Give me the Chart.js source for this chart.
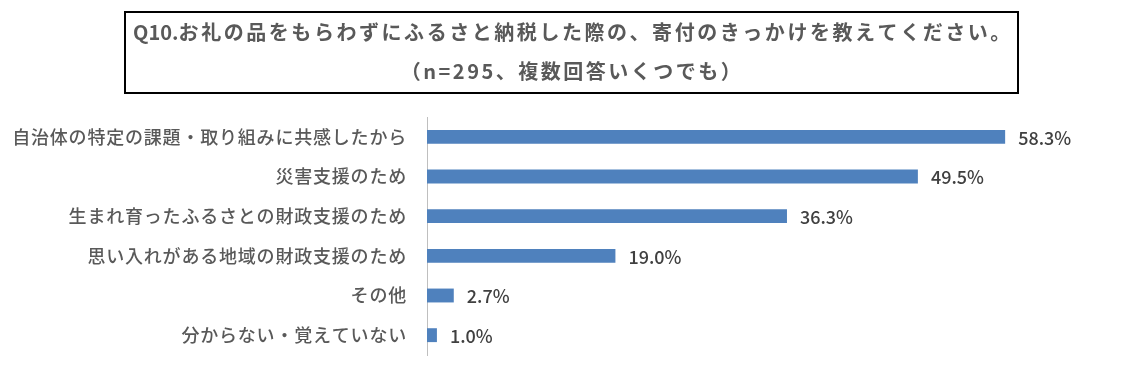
<!DOCTYPE html>
<html><head><meta charset="utf-8">
<script src="https://cdn.jsdelivr.net/npm/chart.js@4.4.0/dist/chart.umd.min.js"></script>
<style>html,body{margin:0;padding:0;background:#fff;} #wrap{width:1144px;height:378px;position:relative}</style>
</head><body><div id="wrap"><canvas id="c" width="1144" height="378"></canvas></div>
<script>
const titleLines = ['Q10.お礼の品をもらわずにふるさと納税した際の、寄付のきっかけを教えてください。', '（n=295、複数回答いくつでも）'];
const categories = ['自治体の特定の課題・取り組みに共感したから', '災害支援のため', '生まれ育ったふるさとの財政支援のため', '思い入れがある地域の財政支援のため', 'その他', '分からない・覚えていない'];
const values = [58.3, 49.5, 36.3, 19.0, 2.7, 1.0];
const valueLabels = values.map(v => v.toFixed(1) + '%');

const JP = '"Noto Sans CJK JP", "Noto Sans", sans-serif';

// draw text centred at cx, with extra spacing only after wide (non-ASCII) characters
function drawSpaced(ctx, text, cx, y, wideSpacing, asciiSpacing) {
  const chars = Array.from(text);
  const widths = chars.map(ch => ctx.measureText(ch).width + (ch.charCodeAt(0) < 128 ? asciiSpacing : wideSpacing));
  const total = widths.reduce((a, b) => a + b, 0);
  let x = cx - total / 2;
  ctx.textAlign = 'left';
  chars.forEach((ch, i) => { ctx.fillText(ch, x, y); x += widths[i]; });
}

const spacing = {
  id: 'spacing',
  beforeDraw(chart) { chart.ctx.letterSpacing = '0.8px'; }
};

const titleBox = {
  id: 'titleBox',
  afterDraw(chart) {
    const ctx = chart.ctx;
    ctx.save();
    ctx.letterSpacing = '0px';
    ctx.strokeStyle = '#000';
    ctx.lineWidth = 2;
    ctx.strokeRect(125, 12, 893, 81);
    ctx.fillStyle = '#595959';
    ctx.font = 'bold 20px ' + JP;
    ctx.textBaseline = 'middle';
    drawSpaced(ctx, titleLines[0], 573, 32, 2.55, 0);
    drawSpaced(ctx, titleLines[1], 572, 71, 2.5, 2.5);
    ctx.restore();
  }
};

const barLabels = {
  id: 'barLabels',
  afterDatasetsDraw(chart) {
    const ctx = chart.ctx;
    const meta = chart.getDatasetMeta(0);
    ctx.save();
    ctx.fillStyle = '#404040';
    ctx.font = '500 18px ' + JP;
    ctx.letterSpacing = '0px';
    ctx.textAlign = 'left';
    ctx.textBaseline = 'middle';
    meta.data.forEach((bar, i) => {
      ctx.fillText(valueLabels[i], bar.x + 13, bar.y + 1);
    });
    ctx.restore();
  }
};

new Chart(document.getElementById('c'), {
  type: 'bar',
  data: {
    labels: categories,
    datasets: [{
      data: values,
      backgroundColor: '#4F81BD',
      borderWidth: 0,
      barPercentage: 0.35,
      categoryPercentage: 1.0
    }]
  },
  options: {
    indexAxis: 'y',
    responsive: false,
    animation: false,
    layout: { padding: { top: 117, bottom: 23, left: 0, right: 122 } },
    plugins: { legend: { display: false }, tooltip: { enabled: false }, title: { display: false } },
    scales: {
      x: { display: false, min: 0, max: 60 },
      y: {
        afterFit(scale) { scale.width = 427; scale.paddingTop = 0; scale.paddingBottom = 0; },
        grid: { display: false, drawTicks: false },
        border: { display: true, color: '#BFBFBF', width: 1 },
        ticks: { color: '#595959', font: { family: JP, size: 18, weight: '500' }, padding: 20 }
      }
    }
  },
  plugins: [spacing, titleBox, barLabels]
});
</script></body></html>
